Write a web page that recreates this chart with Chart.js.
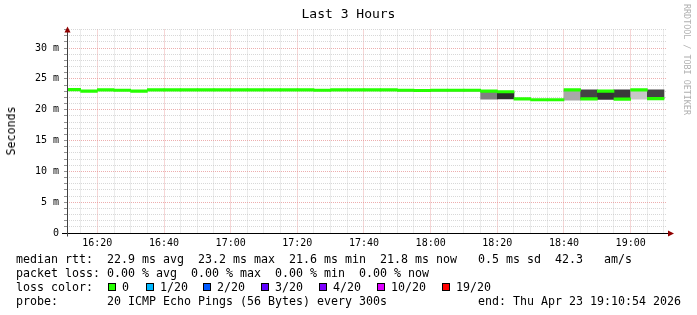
<!DOCTYPE html>
<html>
<head>
<meta charset="utf-8">
<script src="https://cdn.jsdelivr.net/npm/chart.js@4"></script>
<style>
    body { margin: 0; background: #fff; }
    #wrap { position: relative; width: 697px; height: 315px; overflow: hidden; }
    canvas { position: absolute; left: 0; top: 0; }
    .txt { position: absolute; font-family: 'DejaVu Sans Mono', monospace; color: #000; white-space: pre; margin: 0; }
    #title { left: 0; width: 697px; top: 5px; text-align: center; font-size: 13px; line-height: 18px; }
    #ytitle { left: 11px; top: 131px; font-size: 11.6px; transform: translate(-50%, -50%) rotate(-90deg); }
    #stamp { left: 682px; top: 4px; font-size: 8.4px; color: #b0b0b0; writing-mode: vertical-rl; }
    #legend { left: 16px; top: 252px; font-size: 11.63px; line-height: 14px; }
    .box { position: absolute; width: 6px; height: 6px; border: 1px solid #000; top: 283px; }
</style>
</head>
<body>
<div id="wrap">
    <canvas id="pingChart" width="697" height="315"></canvas>
    <div class="txt" id="title">Last 3 Hours</div>
    <div class="txt" id="ytitle">Seconds</div>
    <div class="txt" id="stamp">RRDTOOL / TOBI OETIKER</div>
    <div class="txt" id="legend"></div>
</div>
<script>
// 5 minute slots (start time of each slot)
const slots = [
    '16:10', '16:15', '16:20', '16:25', '16:30', '16:35', '16:40', '16:45', '16:50',
    '16:55', '17:00', '17:05', '17:10', '17:15', '17:20', '17:25', '17:30', '17:35',
    '17:40', '17:45', '17:50', '17:55', '18:00', '18:05', '18:10', '18:15', '18:20',
    '18:25', '18:30', '18:35', '18:40', '18:45', '18:50', '18:55', '19:00', '19:05'
];

// median rtt in ms
const median = [
    23.25, 23.0, 23.2, 23.15, 23.0, 23.2, 23.2, 23.2, 23.2,
    23.2, 23.2, 23.2, 23.2, 23.2, 23.2, 23.15, 23.2, 23.2,
    23.2, 23.2, 23.15, 23.1, 23.15, 23.15, 23.15, 23.0, 22.9,
    21.75, 21.6, 21.6, 23.2, 21.75, 23.0, 21.7, 23.2, 21.8
];

// smoke (spread of the 20 pings), ms
const smokeLo = [
    null, null, null, null, null, null, null, null, null,
    null, null, null, null, null, null, null, null, null,
    null, null, 22.95, 22.95, 22.95, 22.95, 22.95, 21.7, 21.75,
    null, null, null, 21.55, 21.75, 21.65, 21.7, 21.7, 21.8
];
const smokeHi = [
    null, null, null, null, null, null, null, null, null,
    null, null, null, null, null, null, null, null, null,
    null, null, 23.2, 23.3, 23.2, 23.2, 23.2, 23.0, 22.9,
    null, null, null, 23.2, 23.2, 23.0, 23.2, 23.2, 23.2
];
const smokeShade = [
    null, null, null, null, null, null, null, null, null,
    null, null, null, null, null, null, null, null, null,
    null, null, '#b8b8b8', '#b8b8b8', '#b8b8b8', '#b8b8b8', '#b8b8b8', '#808080', '#2c2c2c',
    null, null, null, '#a8a8a8', '#444444', '#333333', '#3a3a3a', '#c8c8c8', '#444444'
];

const yTicks = [0, 5, 10, 15, 20, 25, 30];
const xTicks = ['16:20', '16:40', '17:00', '17:20', '17:40', '18:00', '18:20', '18:40', '19:00'];

const lossColors = [
    { label: '0', color: '#26ff00', x: 108, tx: 122 },
    { label: '1/20', color: '#00b8ff', x: 146, tx: 160 },
    { label: '2/20', color: '#0059ff', x: 203, tx: 217 },
    { label: '3/20', color: '#5e00ff', x: 261, tx: 275 },
    { label: '4/20', color: '#7e00ff', x: 319, tx: 333 },
    { label: '10/20', color: '#dd00ff', x: 377, tx: 391 },
    { label: '19/20', color: '#ff0000', x: 442, tx: 456 }
];

const startTime = '16:10:54';
const endTime = '19:10:54';
const slotLen = 5;
const yMax = 33;
const medianHalf = 0.2;

function toMin(t) {
    const p = t.split(':').map(Number);
    return p[0] * 60 + p[1] + (p[2] || 0) / 60;
}
function fmt(v) {
    const h = Math.floor(v / 60), m = Math.round(v % 60);
    return String(h).padStart(2, '0') + ':' + String(m).padStart(2, '0');
}

const xMajor = xTicks.map(toMin);
const majorGrid = 'rgba(230,140,140,0.7)';
const minorGrid = 'rgba(190,190,190,0.6)';

function buildLegend() {
    const legend = document.getElementById('legend');
    legend.textContent =
        'median rtt:  22.9 ms avg  23.2 ms max  21.6 ms min  21.8 ms now   0.5 ms sd  42.3   am/s\n' +
        'packet loss: 0.00 % avg  0.00 % max  0.00 % min  0.00 % now\n' +
        'loss color:\n' +
        'probe:       20 ICMP Echo Pings (56 Bytes) every 300s             end: Thu Apr 23 19:10:54 2026';
    const wrap = document.getElementById('wrap');
    lossColors.forEach(c => {
        const b = document.createElement('div');
        b.className = 'box';
        b.style.left = c.x + 'px';
        b.style.background = c.color;
        wrap.appendChild(b);
        const t = document.createElement('div');
        t.className = 'txt';
        t.style.left = c.tx + 'px';
        t.style.top = '280px';
        t.style.fontSize = '11.63px';
        t.style.lineHeight = '14px';
        t.textContent = c.label;
        wrap.appendChild(t);
    });
}

const axisPlugin = {
    id: 'rrdAxes',
    afterDraw(chart) {
        const ctx = chart.ctx;
        const a = chart.chartArea;
        const y0 = Math.round(chart.scales.y.getPixelForValue(0)) + 0.5;
        const x0 = Math.round(a.left) + 0.5;
        ctx.save();
        ctx.strokeStyle = '#000';
        ctx.lineWidth = 1;
        ctx.beginPath();
        ctx.moveTo(a.left - 5, y0);
        ctx.lineTo(a.right + 3, y0);
        ctx.stroke();
        ctx.strokeStyle = '#404040';
        ctx.beginPath();
        ctx.moveTo(x0, a.top - 1);
        ctx.lineTo(x0, y0 + 3);
        ctx.stroke();
        ctx.fillStyle = '#900000';
        ctx.beginPath();
        ctx.moveTo(x0 - 3, a.top + 3);
        ctx.lineTo(x0 + 3, a.top + 3);
        ctx.lineTo(x0, a.top - 3);
        ctx.closePath();
        ctx.fill();
        ctx.beginPath();
        ctx.moveTo(a.right + 1, y0 - 3);
        ctx.lineTo(a.right + 1, y0 + 3);
        ctx.lineTo(a.right + 7, y0);
        ctx.closePath();
        ctx.fill();
        ctx.restore();
    }
};

function createChart() {
    const ctx = document.getElementById('pingChart').getContext('2d');
    const centers = slots.map(s => toMin(s) + slotLen / 2);

    const medianData = median.map((m, i) => ({ x: centers[i], y: [m - medianHalf, m + medianHalf] }));
    const smokeData = [];
    const smokeColors = [];
    smokeLo.forEach((lo, i) => {
        if (lo === null) return;
        smokeData.push({ x: centers[i], y: [lo, smokeHi[i]] });
        smokeColors.push(smokeShade[i]);
    });

    // grid positions: every 5 minutes / every 1 ms
    const firstSlot = toMin(slots[0]);
    const xGrid = [];
    for (let t = firstSlot + slotLen; t < toMin(endTime); t += slotLen) xGrid.push(t);
    const yGrid = [];
    for (let v = 0; v <= yMax; v++) yGrid.push(v);

    new Chart(ctx, {
        type: 'bar',
        data: {
            datasets: [{
                label: 'median',
                data: medianData,
                backgroundColor: lossColors[0].color,
                borderWidth: 0,
                barPercentage: 1,
                categoryPercentage: 1,
                grouped: false,
                clip: 0,
                order: 0
            }, {
                label: 'smoke',
                data: smokeData,
                backgroundColor: smokeColors,
                borderWidth: 0,
                barPercentage: 1,
                categoryPercentage: 1,
                grouped: false,
                clip: 0,
                order: 1
            }]
        },
        options: {
            responsive: false,
            animation: false,
            devicePixelRatio: 1,
            layout: { padding: { left: 0, right: 30, top: 29.5, bottom: 0 } },
            plugins: {
                legend: { display: false },
                tooltip: { enabled: false },
                title: { display: false }
            },
            scales: {
                x: {
                    type: 'linear',
                    offset: false,
                    min: toMin(startTime),
                    max: toMin(endTime),
                    afterFit: s => { s.height = 82; },
                    afterBuildTicks: s => { s.ticks = xGrid.map(v => ({ value: v })); },
                    border: { display: false, dash: [1, 1] },
                    grid: {
                        offset: false,
                        drawTicks: false,
                        color: c => xMajor.includes(Math.round(c.tick.value)) ? majorGrid : minorGrid
                    },
                    ticks: {
                        autoSkip: false,
                        maxRotation: 0,
                        padding: 4,
                        color: '#000',
                        font: { family: 'DejaVu Sans Mono', size: 10 },
                        callback: v => xMajor.includes(Math.round(v)) ? fmt(Math.round(v)) : ''
                    }
                },
                y: {
                    min: 0,
                    max: yMax,
                    afterFit: s => { s.width = 67; },
                    afterBuildTicks: s => { s.ticks = yGrid.map(v => ({ value: v })); },
                    border: { display: false, dash: [1, 1] },
                    grid: {
                        drawTicks: true,
                        tickLength: 3,
                        tickColor: 'rgba(120,120,120,0.8)',
                        color: c => yTicks.includes(c.tick.value) && c.tick.value !== 0 ? majorGrid : minorGrid
                    },
                    ticks: {
                        autoSkip: false,
                        padding: 5,
                        color: '#000',
                        font: { family: 'DejaVu Sans Mono', size: 10 },
                        callback: v => yTicks.includes(v) ? (v === 0 ? '0' : v + ' m') : ''
                    }
                }
            }
        },
        plugins: [axisPlugin]
    });
}

buildLegend();
createChart();
</script>
</body>
</html>
